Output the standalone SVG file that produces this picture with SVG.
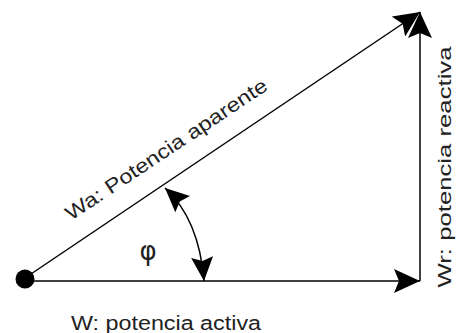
<svg xmlns="http://www.w3.org/2000/svg" width="456" height="333" viewBox="0 0 456 333">
  <style>
    .ln { stroke: #000; stroke-width: 1.5; fill: none; }
    .lbl { font-family: "Liberation Sans", Arial, sans-serif; fill: #222; font-size: 20px; }
    .phi { font-family: "DejaVu Sans", sans-serif; fill: #222; font-size: 26px; }
  </style>
  <defs>
    <marker id="big" viewBox="0 0 26 24" refX="26" refY="12" markerWidth="26" markerHeight="24" markerUnits="userSpaceOnUse" orient="auto-start-reverse">
      <path d="M0,0 L26,12 L0,24 L5,12 Z" fill="#000"/>
    </marker>
    <marker id="small" viewBox="0 0 24 22" refX="24" refY="11" markerWidth="24" markerHeight="22" markerUnits="userSpaceOnUse" orient="auto-start-reverse">
      <path d="M0,0 L24,11 L0,22 L4,11 Z" fill="#000"/>
    </marker>
  </defs>
  <rect width="456" height="333" fill="#fff"/>
  <g id="connectors">
    <line class="ln" x1="25" y1="281" x2="420" y2="281" marker-end="url(#big)"/>
    <line class="ln" x1="420" y1="281" x2="420" y2="12" stroke-width="1.2" marker-end="url(#big)"/>
    <line class="ln" x1="25" y1="278" x2="420" y2="12" stroke-width="1.3" marker-end="url(#big)"/>
    <path class="ln" d="M165,188 Q199,219 204,281" stroke-width="1.3" marker-start="url(#small)" marker-end="url(#small)"/>
  </g>
  <g id="origin">
    <circle cx="25" cy="279" r="9.5" fill="#000"/>
  </g>
  <g id="label-phi">
    <text class="phi" x="148" y="260" text-anchor="middle">φ</text>
  </g>
  <g id="label-w">
    <text class="lbl" x="71" y="330" textLength="190" lengthAdjust="spacingAndGlyphs">W: potencia activa</text>
  </g>
  <g id="label-wa">
    <text class="lbl" x="170" y="155" text-anchor="middle" textLength="238" lengthAdjust="spacingAndGlyphs" transform="rotate(-33.7 170 155)">Wa: Potencia aparente</text>
  </g>
  <g id="label-wr">
    <text class="lbl" x="451" y="167" text-anchor="middle" textLength="241" lengthAdjust="spacingAndGlyphs" transform="rotate(-90 451 167)" style="font-size:19px">Wr: potencia reactiva</text>
  </g>
</svg>
